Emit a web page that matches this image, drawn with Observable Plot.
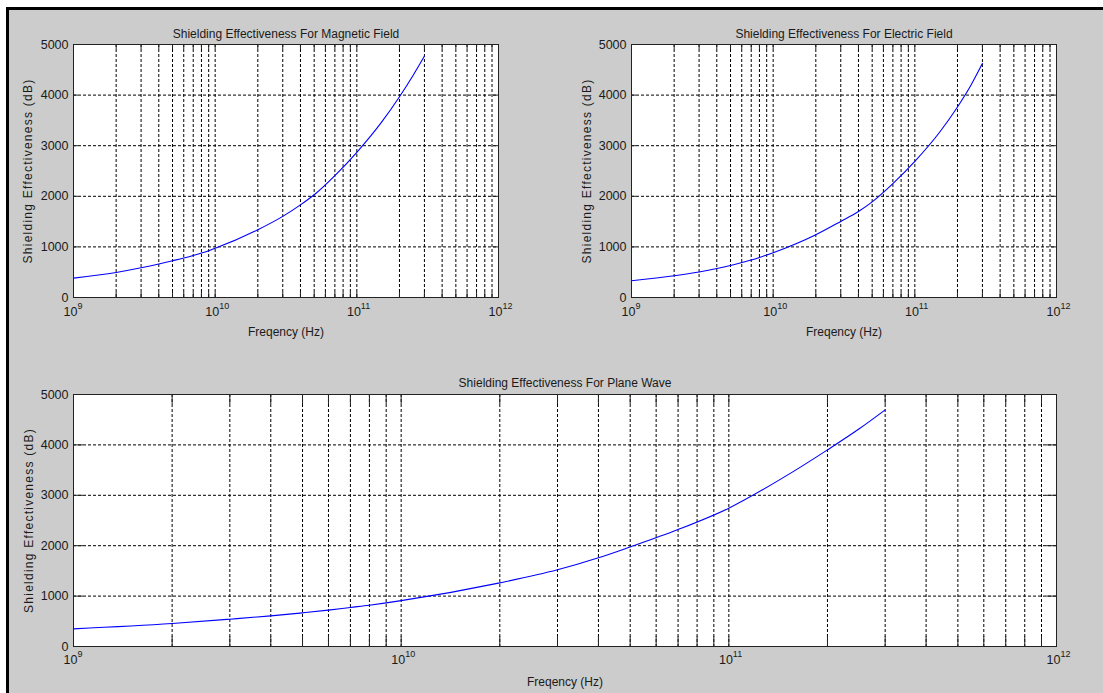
<!DOCTYPE html>
<html>
<head>
<meta charset="utf-8">
<script src="https://cdn.jsdelivr.net/npm/d3@7"></script>
<script src="https://cdn.jsdelivr.net/npm/@observablehq/plot@0.6"></script>
<style>
  html, body { margin: 0; padding: 0; background: #fff; }
  #root { position: relative; width: 1103px; height: 693px; overflow: hidden; background: #fff; }
  #fig { position: absolute; left: 6px; top: 7px; right: 0; bottom: 0; background: #cccccc;
         border-top: 3px solid #000; border-left: 3px solid #000; }
  .panel { position: absolute; }
</style>
</head>
<body>
<div id="root"><div id="fig"></div></div>
<script>
// ---- data ----
const freqs = [1e9, 2e9, 3e9, 4e9, 5e9, 6e9, 7e9, 8e9, 9e9, 1e10, 2e10, 3e10, 4e10, 5e10, 7e10, 1e11, 1.5e11, 2e11, 2.5e11, 3e11];
const magneticSE = [383, 495, 587, 662, 726, 780, 831, 878, 925, 972, 1339, 1603, 1830, 2030, 2410, 2870, 3470, 3968, 4393, 4769];
const electricSE = [330, 429, 505, 572, 633, 690, 740, 790, 838, 884, 1240, 1504, 1700, 1890, 2250, 2690, 3270, 3765, 4205, 4624];
const planeSE    = [350, 456, 542, 608, 668, 722, 775, 820, 866, 910, 1263, 1521, 1759, 1975, 2320, 2745, 3390, 3902, 4320, 4696];

const decades = [1e9, 1e10, 1e11, 1e12];
const decadeExponents = ["9", "10", "11", "12"];
const minorFreqs = [];
for (const d of [1e9, 1e10, 1e11]) for (let k = 2; k <= 9; k++) minorFreqs.push(k * d);
const yTicks = [0, 1000, 2000, 3000, 4000, 5000];

const titles = [
  "Shielding Effectiveness For Magnetic Field",
  "Shielding Effectiveness For Electric Field",
  "Shielding Effectiveness For Plane Wave"
];
const yLabel = "Shielding Effectiveness (dB)";
const xLabel = "Freqency (Hz)";

const FONT = "'Liberation Sans', Arial, sans-serif";

function panel(values, title, o) {
  const data = freqs.map((f, i) => ({f, se: values[i]}));
  const ph = o.height - o.mt - o.mb;
  const pw = o.width - o.ml - o.mr;
  const allX = [...decades, ...minorFreqs];
  const chart = Plot.plot({
    width: o.width, height: o.height,
    marginLeft: o.ml, marginRight: o.mr, marginTop: o.mt, marginBottom: o.mb,
    style: {background: "transparent", overflow: "visible", fontFamily: FONT, fontSize: "12px", color: "#1a1a1a"},
    x: {type: "log", domain: [1e9, 1e12], axis: null},
    y: {domain: [0, 5000], axis: null},
    marks: [
      Plot.frame({fill: "white", stroke: null}),
      Plot.ruleX(allX, {x: d => d, stroke: "#000", strokeWidth: 1, strokeDasharray: "3,2"}),
      Plot.ruleY(yTicks, {y: d => d, stroke: "#000", strokeWidth: 1, strokeDasharray: "3,2"}),
      // inner tick marks
      Plot.ruleX(allX, {x: d => d, insetTop: ph - o.tick, stroke: "#222"}),
      Plot.ruleX(allX, {x: d => d, insetBottom: ph - o.tick, stroke: "#222"}),
      Plot.ruleY(yTicks, {y: d => d, insetRight: pw - o.tick, stroke: "#222"}),
      Plot.ruleY(yTicks, {y: d => d, insetLeft: pw - o.tick, stroke: "#222"}),
      Plot.line(data, {x: "f", y: "se", stroke: "#0000ff", strokeWidth: 1.1, curve: "monotone-x"}),
      Plot.frame({stroke: "#222", strokeWidth: 1}),
      // y tick labels
      Plot.text(yTicks, {y: d => d, text: d => String(d), frameAnchor: "left", textAnchor: "end", dx: -5, fontSize: 12.5}),
      // x tick labels 10^n
      Plot.text(decades, {x: d => d, text: () => "10", frameAnchor: "bottom", textAnchor: "end", dx: 4, dy: o.xdy, fontSize: 12.5}),
      Plot.text(decades, {x: d => d, text: (d, i) => decadeExponents[i], frameAnchor: "bottom", textAnchor: "start", dx: 4, dy: o.xdy - 7, fontSize: 9}),
      // title and axis labels
      Plot.text([title], {text: d => d, frameAnchor: "top", dy: o.tdy, fontSize: 12}),
      Plot.text([xLabel], {text: d => d, frameAnchor: "bottom", dy: o.ldy, fontSize: 12}),
      Plot.text([yLabel], {text: d => d, frameAnchor: "left", textAnchor: "middle", rotate: -90, dx: o.ydx, fontSize: 12})
    ]
  });
  // MATLAB renders the y label with looser letter spacing
  d3.select(chart).selectAll("text").filter(function() { return this.textContent === yLabel; })
    .style("letter-spacing", "1.25px");
  chart.classList.add("panel");
  chart.style.left = o.left + "px";
  chart.style.top = o.top + "px";
  chart.style.position = "absolute";
  document.getElementById("root").appendChild(chart);
}

panel(magneticSE, titles[0], {left: 0, top: 0, width: 560, height: 350, ml: 73, mr: 62, mt: 44, mb: 53, tick: 5, xdy: 18, tdy: -15, ldy: 38, ydx: -45});
panel(electricSE, titles[1], {left: 560, top: 0, width: 543, height: 350, ml: 71, mr: 47, mt: 44, mb: 53, tick: 5, xdy: 18, tdy: -15, ldy: 38, ydx: -44});
panel(planeSE, titles[2], {left: 0, top: 350, width: 1103, height: 343, ml: 73, mr: 47, mt: 44, mb: 47, tick: 10, xdy: 17, tdy: -16, ldy: 39, ydx: -44});
</script>
</body>
</html>
